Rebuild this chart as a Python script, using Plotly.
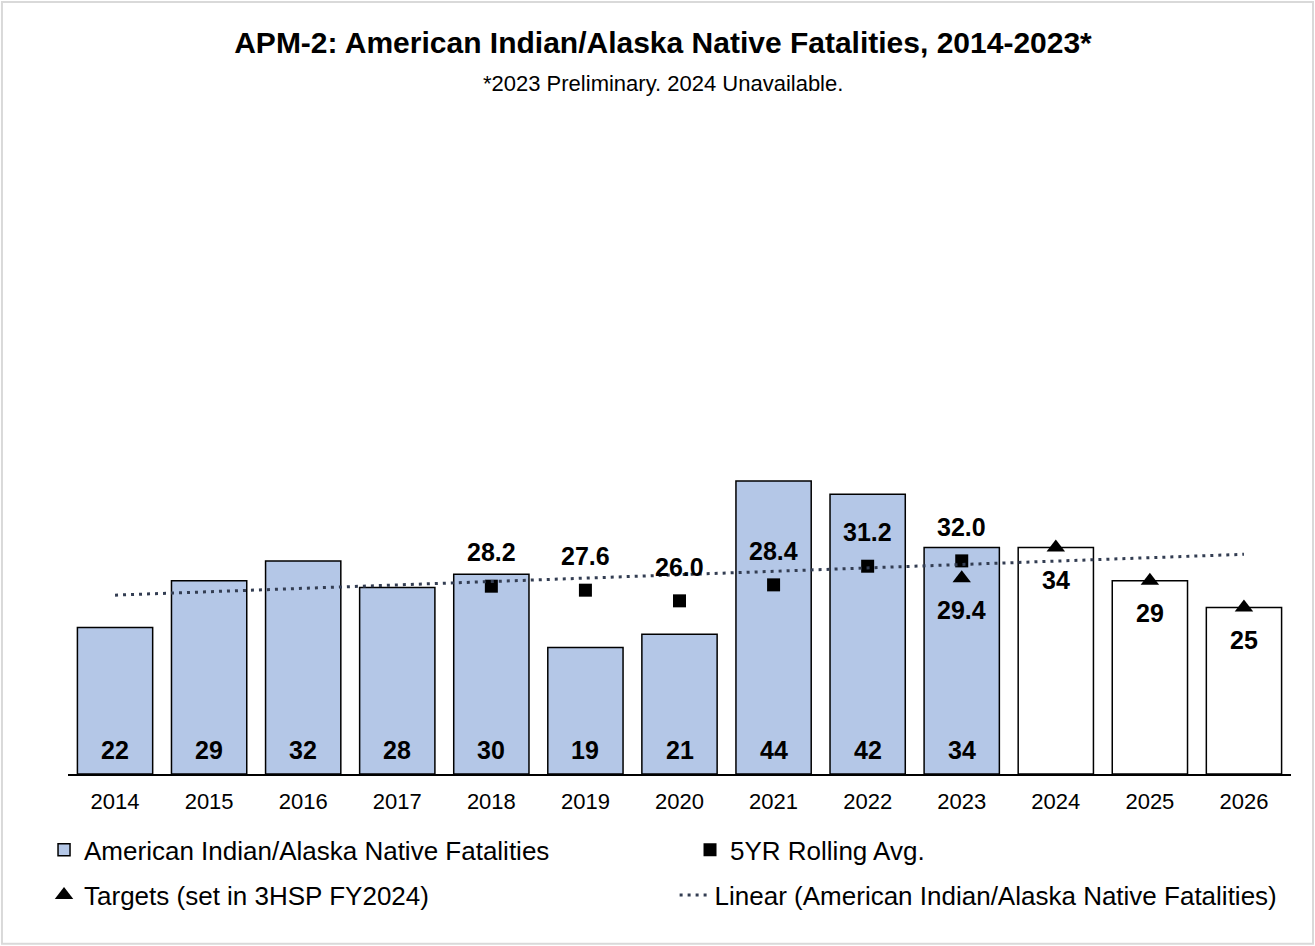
import numpy as np
import plotly.graph_objects as go

# data
years = ["2014", "2015", "2016", "2017", "2018", "2019", "2020",
         "2021", "2022", "2023", "2024", "2025", "2026"]
fatalities = [22, 29, 32, 28, 30, 19, 21, 44, 42, 34, 34, 29, 25]
actual_years = 10  # 2014-2023 have actual counts, 2024-2026 are target bars

avg_years = ["2018", "2019", "2020", "2021", "2022", "2023"]
rolling_avg = [28.2, 27.6, 26.0, 28.4, 31.2, 32.0]

target_years = ["2023", "2024", "2025", "2026"]
targets = [29.4, 34, 29, 25]
target_labels = ["29.4", "34", "29", "25"]

FONT = "Arial, Liberation Sans, sans-serif"
BLUE = "#B4C7E7"
LABEL_FONT = dict(family=FONT, size=25, color="black", weight="bold")

bar_colors = [BLUE if i < actual_years else "white" for i in range(len(years))]

# excel style linear trendline over the bar series
xs = np.arange(1, len(years) + 1)
slope, icpt = np.polyfit(xs, fatalities, 1)
trend = [slope * xs[0] + icpt, slope * xs[-1] + icpt]

fig = go.Figure()

fig.add_trace(go.Bar(
    x=years, y=fatalities, name="American Indian/Alaska Native Fatalities",
    marker=dict(color=bar_colors, line=dict(color="black", width=1.5)),
    legend="legend",
))

fig.add_trace(go.Scatter(
    x=avg_years, y=rolling_avg, name="5YR Rolling Avg.", mode="markers",
    marker=dict(symbol="square", size=13, color="black"),
    legend="legend2",
))

fig.add_trace(go.Scatter(
    x=target_years, y=targets, name="Targets (set in 3HSP FY2024)", mode="markers",
    marker=dict(symbol="triangle-up", size=16, color="black"),
    legend="legend3",
))

fig.add_trace(go.Scatter(
    x=[years[0], years[-1]], y=trend,
    name="Linear (American Indian/Alaska Native Fatalities)", mode="lines",
    line=dict(color="#333D52", width=3, dash="3px,5px"),
    legend="legend4",
))

# annotations on a category axis take the category index
idx = {yr: i for i, yr in enumerate(years)}
annotations = []
# counts at the foot of the actual-year bars
for yr, v in zip(years[:actual_years], fatalities[:actual_years]):
    annotations.append(dict(x=idx[yr], y=0, text=str(v), showarrow=False,
                            yanchor="middle", yshift=24, font=LABEL_FONT))
# rolling averages above the squares
for yr, v in zip(avg_years, rolling_avg):
    annotations.append(dict(x=idx[yr], y=v, text=f"{v:.1f}", showarrow=False,
                            yanchor="middle", yshift=34, font=LABEL_FONT))
# targets below the triangles
for yr, v, lab in zip(target_years, targets, target_labels):
    annotations.append(dict(x=idx[yr], y=v, text=lab, showarrow=False,
                            yanchor="middle", yshift=-32, font=LABEL_FONT))

annotations.append(dict(text="*2023 Preliminary. 2024 Unavailable.", xref="paper", yref="paper",
                        x=(663 - 68) / 1223, y=1.0 + (108 - 84) / 666, showarrow=False,
                        yanchor="middle", font=dict(family=FONT, size=22, color="black")))

leg_font = dict(family=FONT, size=26, color="black")
def legend_box(x, y):
    return dict(orientation="v", x=x, y=y, xanchor="left", yanchor="middle",
                font=leg_font, bgcolor="rgba(0,0,0,0)", borderwidth=0)

fig.update_layout(
    width=1315, height=946,
    margin=dict(l=68, r=24, t=108, b=172),
    plot_bgcolor="white", paper_bgcolor="white",
    font=dict(family=FONT, color="black"),
    bargap=0.2,
    showlegend=True,
    title=dict(text="<b>APM-2: American Indian/Alaska Native Fatalities, 2014-2023*</b>",
               x=663 / 1315, xref="container", y=1 - 42 / 946, yanchor="middle",
               font=dict(family=FONT, size=30, color="black")),
    xaxis=dict(type="category", range=[-0.5, len(years) - 0.5], showline=True,
               linecolor="black", linewidth=1.5, ticks="", showgrid=False,
               ticklabelstandoff=7,
               tickfont=dict(family=FONT, size=22, color="black")),
    yaxis=dict(range=[0, 100], visible=False, showgrid=False),
    legend=legend_box(-0.0196, -0.114),
    legend2=legend_box(0.5086, -0.114),
    legend3=legend_box(-0.0196, -0.182),
    legend4=legend_box(0.4960, -0.182),
    annotations=annotations,
    shapes=[dict(type="rect", xref="paper", yref="paper",
                 x0=-0.054, x1=1.018, y0=-0.255, y1=1.159,
                 line=dict(color="#D9D9D9", width=2), fillcolor="rgba(0,0,0,0)")],
)

fig.write_html("out.html", config={"displayModeBar": False},
               post_script="document.body.style.margin='0';document.body.style.overflow='hidden';")
